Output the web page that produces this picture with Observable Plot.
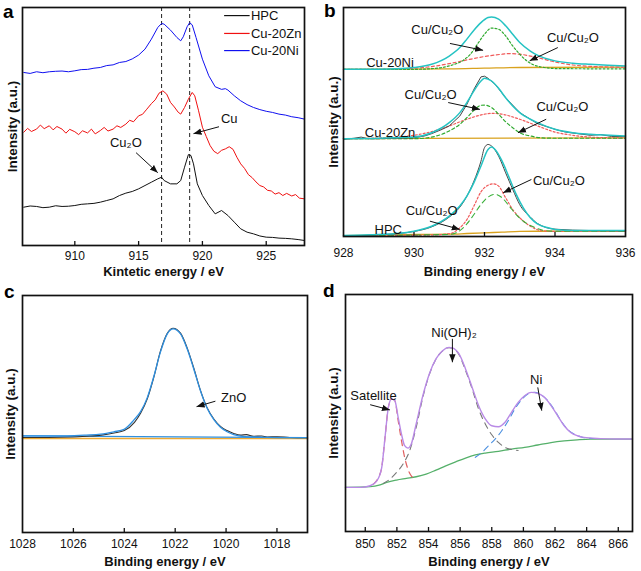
<!DOCTYPE html>
<html><head><meta charset="utf-8">
<script src="https://cdn.jsdelivr.net/npm/d3@7"></script>
<script src="https://cdn.jsdelivr.net/npm/@observablehq/plot@0.6"></script>
<style>
body{margin:0;background:#fff;font-family:"Liberation Sans",Arial,sans-serif;}
#fig{position:relative;width:641px;height:571px;overflow:hidden;}
.panel{position:absolute;}
.letter{position:absolute;font-weight:bold;font-size:19px;line-height:19px;}
</style></head><body><div id="fig"></div>
<script>
// ---------------- Panel a: Cu LMM (kinetic energy) ----------------
const aTicks = [910, 915, 920, 925];
const aNiE = [906,906.5,907,907.5,908,908.5,909,909.5,910,910.5,911,911.5,912,912.5,913,913.5,914,914.5,915,915.5,916,916.5,916.8,917,917.5,918,918.3,918.5,918.8,919,919.2,919.5,920,920.5,921,921.5,921.8,922,922.5,923,923.5,924,924.5,925,925.5,926,926.5,927,927.5,928];
const aNiI = [72.7,72.3,73.0,72.6,73.0,73.2,73.3,73.0,73.4,73.9,74.0,74.5,74.8,75.6,75.9,76.9,77.3,78.4,80.0,82.5,86.7,91.6,93.3,93.0,90.5,87.4,86.0,87.7,91.9,93.6,92.7,87.4,78.3,71.3,66.7,65.6,65.9,65.3,62.9,60.8,59.2,58.0,57.1,56.4,55.9,55.2,54.8,54.1,53.7,53.1];
const aZnE = [906,906.3,906.6,907,907.3,907.6,908,908.3,908.6,909,909.3,909.6,910,910.3,910.6,911,911.3,911.6,912,912.3,912.6,913,913.3,913.6,914,914.3,914.6,915,915.3,915.6,916,916.3,916.6,916.9,917.2,917.5,917.8,918.1,918.3,918.6,918.9,919.2,919.4,919.7,920,920.3,920.6,920.9,921.2,921.5,921.8,922.1,922.4,922.7,923,923.3,923.6,923.9,924.2,924.5,924.8,925.1,925.4,925.7,926,926.3,926.6,927,927.3,927.6,928];
const aZnI = [47.6,49.2,47.9,48.9,50.6,49.1,50.3,48.6,50.0,48.9,47.2,48.8,47.8,46.6,48.2,47.3,48.9,46.9,48.3,49.6,48.1,48.9,50.3,49.6,51.0,52.6,52.0,54.5,55.1,57.0,59.6,61.2,64.0,65.0,63.6,60.1,58.2,56.0,55.2,58.0,61.5,64.3,62.9,56.6,49.7,45.8,42.0,39.6,38.6,40.0,40.6,41.5,40.4,37.1,34.3,32.4,29.8,28.5,26.7,25.2,24.6,23.2,22.9,21.6,22.2,21.0,21.9,20.8,21.4,19.9,19.6];
const aHpcE = [906,906.5,907,907.5,908,908.5,909,909.5,910,910.5,911,911.5,912,912.5,913,913.5,914,914.5,915,915.5,916,916.5,916.8,917,917.5,918,918.3,918.6,918.9,919.1,919.3,919.6,920,920.5,921,921.5,922,922.5,923,923.5,924,924.5,925,925.5,926,926.5,927,927.5,928];
const aHpcI = [16.1,16.6,16.4,15.9,16.1,16.7,16.4,16.5,16.8,17.3,17.5,17.7,18.2,18.9,19.6,21.0,22.0,22.7,23.8,25.2,26.6,28.0,28.7,27.3,25.9,25.9,27.3,32.9,38.2,37.8,34.3,25.9,21.0,16.8,13.3,14.7,12.6,9.8,7.0,5.6,4.9,4.0,3.5,3.4,3.1,3.0,2.8,2.5,2.1];
const aSeries = ["HPC", "Cu-20Zn", "Cu-20Ni"];
const aColors = ["#111111", "#f01010", "#1010f0"];
const aRefLines = [916.8, 919.0];
const aLabels = [{t: "Cu₂O", x: 914.0, y: 43.3}, {t: "Cu", x: 922.1, y: 53.3}];
const aArrows = [{x1: 914.8, y1: 39.0, x2: 916.5, y2: 30.6}, {x1: 921.3, y1: 49.9, x2: 919.3, y2: 47.0}];
const aLegend = {x1: 921.7, x2: 923.7, xt: 923.8, y: [96.6, 89.1, 81.9]};

// ---------------- Panel b: Cu 2p3/2 ----------------
const bTicks = [928, 930, 932, 934, 936];
const bNiFitE = [928,929,929.5,930,930.5,931,931.3,931.5,931.7,931.9,932.1,932.2,932.4,932.6,932.8,933,933.3,933.5,934,934.5,935,935.5,936];
const bNiFitI = [73.0,73.0,73.2,73.8,75.2,78.8,82.5,86.2,90.1,93.4,95.6,95.9,94.9,92.0,88.3,84.7,81.0,79.2,76.7,75.7,75.2,74.8,74.5];
const bNiGreenE = [928,930,930.5,931,931.4,931.6,931.8,932.0,932.2,932.4,932.6,932.8,933.0,933.2,933.4,933.7,934.1,936];
const bNiGreenI = [73.0,73.0,73.3,74.5,77.0,79.6,84.0,88.3,91.0,90.5,87.6,83.2,79.6,76.7,74.9,73.8,73.3,73.2];
const bNiRedE = [928,929,930,930.5,931,931.5,932,932.5,932.7,933,933.5,934,934.5,935,936];
const bNiRedI = [73.0,73.0,73.5,74.2,75.5,77.1,78.6,79.6,79.9,79.6,78.1,76.2,74.9,74.3,73.9];
const bNiBaseE = [928, 931, 932, 933, 936];
const bNiBaseI = [73.0, 73.2, 73.5, 73.8, 74.0];

const bZnRawE = [928,928.3,928.5,928.7,929,929.5,930,930.3,930.5,930.8,931,931.3,931.5,931.7,931.9,932.0,932.1,932.3,932.6,933,933.5,934,934.3,934.6,935,935.3,935.6,936];
const bZnRawI = [42.4,42.9,43.4,42.7,42.7,42.9,43.1,43.9,44.9,46.8,48.3,52.6,57.7,64.3,69.7,70.0,69.1,66.5,60.6,54.1,49.3,46.8,45.6,45.0,44.2,44.5,43.7,43.6];
const bZnFitE = [928,929,930,930.5,931,931.3,931.5,931.7,931.9,932.0,932.2,932.4,932.6,932.8,933,933.3,933.5,934,934.5,935,936];
const bZnFitI = [42.7,42.9,43.4,45.3,49.7,54.1,58.5,63.6,67.9,69.1,67.9,64.7,60.6,57.0,54.1,51.2,49.7,46.8,45.3,44.6,43.9];
const bZnGreenE = [928,930,930.5,931,931.3,931.5,931.7,931.9,932.0,932.2,932.4,932.6,932.8,933,933.3,933.6,934,936];
const bZnGreenI = [42.7,42.7,43.4,46.1,49.0,51.9,55.1,57.3,57.4,56.3,53.4,50.1,47.5,45.3,43.9,43.1,42.9,42.9];
const bZnRedE = [928,929,930,930.5,931,931.5,932,932.2,932.5,933,933.5,934,934.5,935,936];
const bZnRedI = [42.7,43.0,44.2,45.8,48.3,51.2,53.4,53.8,53.4,51.2,48.3,45.6,44.2,43.4,43.0];
const bZnBaseE = [928, 936];
const bZnBaseI = [42.7, 43.1];

const bHpcRawE = [928,929,930,930.5,931,931.3,931.5,931.7,931.9,932.0,932.1,932.2,932.4,932.6,932.8,933,933.3,933.5,934,935,936];
const bHpcRawI = [0.3,0.7,2.2,4.2,8.5,12.8,17.6,24.2,32.9,38.8,40.2,39.5,35.1,27.8,20.6,13.9,8.5,5.7,3.2,2.6,2.5];
const bHpcFitE = [928,929,929.5,930,930.5,931,931.3,931.5,931.7,931.9,932.1,932.2,932.3,932.5,932.7,932.9,933.1,933.3,933.5,933.8,934,934.5,935,936];
const bHpcFitI = [0.4,0.9,1.3,2.3,4.5,8.9,13.3,17.6,23.5,30.8,38.0,39.1,38.0,32.9,25.7,18.4,12.5,8.2,5.5,3.8,3.1,2.6,2.6,2.6];
const bHpcRedE = [928,930.5,931,931.3,931.5,931.7,931.9,932.1,932.25,932.4,932.6,932.8,933,933.3,933.6,934,935,936];
const bHpcRedI = [0.4,0.7,1.2,3.8,7.4,13.3,19.5,22.4,23.0,22.0,16.9,11.8,8.2,4.5,2.6,2.2,2.3,2.3];
const bHpcGreenE = [928,931,931.2,931.5,931.7,931.9,932.1,932.3,932.5,932.7,932.9,933.1,933.4,933.7,934,936];
const bHpcGreenI = [0.4,0.9,1.6,5.5,9.6,14.0,17.2,18.4,16.9,13.3,9.6,6.7,4.1,2.6,2.3,2.3];
const bHpcBaseE = [928,929,930,931,931.5,932,932.5,933,933.5,934,936];
const bHpcBaseI = [0.4,0.6,0.9,1.0,1.3,1.6,1.9,2.2,2.3,2.3,2.3];

const bLabels = [
  {t: "Cu-20Ni", x: 929.32, y: 75.9}, {t: "Cu-20Zn", x: 929.32, y: 45.3}, {t: "HPC", x: 929.27, y: 3.1},
  {t: "Cu/Cu₂O", x: 930.66, y: 90.1}, {t: "Cu/Cu₂O", x: 934.51, y: 86.6},
  {t: "Cu/Cu₂O", x: 930.47, y: 61.7}, {t: "Cu/Cu₂O", x: 934.21, y: 56.6},
  {t: "Cu/Cu₂O", x: 930.5, y: 11.4}, {t: "Cu/Cu₂O", x: 934.11, y: 24.2}
];
const bArrows = [
  {x1: 931.02, y1: 84.3, x2: 931.96, y2: 81.3}, {x1: 934.08, y1: 82.5, x2: 933.28, y2: 76.7},
  {x1: 930.97, y1: 58.5, x2: 931.87, y2: 55.5}, {x1: 933.75, y1: 51.2, x2: 932.95, y2: 45.3},
  {x1: 930.45, y1: 6.7, x2: 931.30, y2: 3.1}, {x1: 933.33, y1: 24.9, x2: 932.53, y2: 19.1}
];

// ---------------- Panel c: Zn 2p3/2 ----------------
const cTicks = [1028, 1026, 1024, 1022, 1020, 1018];
const cFitE = [1028,1027,1026.24,1025.5,1024.93,1024.41,1024.01,1023.62,1023.36,1023.10,1022.84,1022.58,1022.31,1022.08,1021.79,1021.53,1021.27,1021.01,1020.75,1020.48,1020.22,1019.96,1019.70,1019.44,1018.92,1018.39,1017.5,1016.8];
const cFitI = [40.8,40.8,40.8,41.1,41.5,42.5,43.5,47.5,51.0,56.8,65.8,76.1,83.8,85.9,83.8,77.5,69.0,59.9,52.5,47.6,44.4,42.5,41.3,40.7,40.3,40.1,40.0,40.0];
const cRawE = [1028,1027,1026,1025.5,1024.9,1024.4,1024,1023.6,1023.36,1023.1,1022.84,1022.58,1022.31,1022.08,1021.79,1021.53,1021.27,1021.01,1020.75,1020.48,1020.22,1019.96,1019.7,1019.44,1019.2,1018.92,1018.6,1018.39,1018,1017.5,1016.8];
const cRawI = [40.1,40.1,40.3,40.6,41.1,42.0,43.0,46.5,50.3,56.3,65.5,76.5,84.1,86.2,84.1,77.9,69.4,60.1,52.8,47.9,44.8,43.0,41.8,41.1,41.3,40.6,40.7,40.3,40.4,40.1,40.0];
const cBgE = [1028, 1016.8];
const cBgI = [40.8, 40.0];
const cBaseE = [1028, 1016.8];
const cBaseI = [39.7, 39.7];
const cLabels = [{t: "ZnO", x: 1019.7, y: 56.8}];
const cArrows = [{x1: 1020.42, y1: 55.4, x2: 1021.16, y2: 53.1}];

// ---------------- Panel d: Ni 2p3/2 ----------------
const dTicks = [850, 852, 854, 856, 858, 860, 862, 864, 866];
const dFitE = [848.75,849.69,850.31,850.73,851.04,851.25,851.46,851.66,851.87,852.08,852.29,852.49,852.70,852.91,853.22,853.64,854.05,854.47,854.89,855.30,855.51,855.93,856.34,856.76,857.17,857.59,858.00,858.42,858.84,859.25,859.67,860.08,860.50,860.91,861.33,861.75,862.16,862.58,862.99,863.41,863.83,864.86,865.90,866.9];
const dFitI = [18.6,18.6,19.3,21.4,27.0,39.7,52.4,55.9,55.2,48.2,41.1,36.2,35.2,36.9,45.4,57.3,66.5,72.8,76.3,77.7,77.5,74.9,68.6,60.8,53.1,47.5,44.6,44.2,46.1,50.3,54.5,57.3,58.7,58.3,56.6,53.1,48.9,44.6,41.8,40.4,39.7,39.2,39.0,39.0];
const dBgE = [848.75,850.31,850.94,851.35,851.98,852.60,853.22,853.85,854.47,855.09,855.72,856.34,856.96,857.59,858.42,859.25,860.08,860.91,861.75,862.58,863.41,864.24,866.9];
const dBgI = [18.6,18.9,19.7,20.7,21.7,22.4,23.1,24.2,25.9,27.7,29.4,31.0,32.3,33.1,33.8,34.8,35.5,36.5,37.5,38.2,38.7,39.0,39.0];
const dSatE = [850.52,850.83,851.04,851.25,851.46,851.66,851.87,852.08,852.29,852.49,852.70,852.91,853.12];
const dSatI = [20.0,22.8,27.0,39.7,52.4,55.9,55.2,46.8,38.3,31.3,26.3,23.5,22.4];
const dOhE = [851.14,851.56,851.98,852.39,852.81,853.22,853.64,854.05,854.47,854.89,855.30,855.51,855.93,856.34,856.76,857.17,857.59,858.00,858.42,858.84,859.25,859.67];
const dOhI = [20.3,22.1,24.9,28.5,34.1,43.9,56.6,66.2,72.7,76.2,77.6,77.3,74.6,68.0,60.1,51.6,45.4,40.8,37.6,35.5,34.6,34.2];
const dNiE = [856.96,857.38,857.80,858.21,858.63,859.05,859.46,859.88,860.29,860.71,861.12,861.54,861.96,862.37,862.79,863.20,863.62,864.03,864.86];
const dNiI = [31.3,33.4,36.2,39.0,42.5,46.8,51.7,55.6,58.0,58.7,57.7,55.2,51.3,46.8,43.1,41.1,40.0,39.4,39.2];
const dLabels = [{t: "Satellite", x: 850.52, y: 57.3}, {t: "Ni(OH)₂", x: 855.61, y: 83.7}, {t: "Ni", x: 860.81, y: 63.9}];
const dArrows = [
  {x1: 850.31, y1: 53.5, x2: 851.56, y2: 51.3},
  {x1: 855.51, y1: 81.3, x2: 855.51, y2: 71.4},
  {x1: 860.91, y1: 60.8, x2: 861.16, y2: 51.0}
];

// ---------------- helpers ----------------
const FONT = "'Liberation Sans', Arial, Helvetica, sans-serif";
const zip = (xs, ys) => xs.map((x, i) => ({x, y: ys[i]}));
function arrowHead(color) {
  return d3.create("svg:marker")
    .attr("viewBox", "-8 -4 8 8")
    .attr("markerWidth", 8).attr("markerHeight", 8)
    .attr("markerUnits", "userSpaceOnUse")
    .attr("orient", "auto")
    .attr("fill", color).attr("stroke", "none")
    .call(m => m.append("path").attr("d", "M0,0L-8,-3.2L-8,3.2Z"))
    .node();
}
const curve = (xs, ys, o) => Plot.line(zip(xs, ys), {x: "x", y: "y", curve: "monotone-x", ...o});
const labels = (arr, o = {}) => Plot.text(arr, {x: "x", y: "y", text: "t", fontSize: 13, fill: "#111", ...o});
const arrows = (arr) => Plot.link(arr, {x1: "x1", y1: "y1", x2: "x2", y2: "y2", stroke: "#111", strokeWidth: 1, markerEnd: arrowHead});

const fig = document.getElementById("fig");
function panel({left, top, width, height, margins, xDomain, ticks, tickMarks, tickPadding, xLabel, xLabelDy, yLabelDx, letter, letterPos, marks}) {
  const [mt, mr, mb, ml] = margins;
  const innerH = height - mt - mb;
  const chart = Plot.plot({
    width, height, marginTop: mt, marginRight: mr, marginBottom: mb, marginLeft: ml,
    style: {fontFamily: FONT, fontSize: "12px", background: "transparent", overflow: "visible", color: "#111"},
    x: {domain: xDomain, ticks, tickSize: 0, tickPadding, label: null, tickFormat: d3.format("d")},
    y: {domain: [0, 100], axis: null},
    marks: [
      ...marks,
      Plot.tickX(tickMarks, {x: d => d, insetTop: innerH - 4, stroke: "#111", strokeWidth: 1.3}),
      Plot.frame({stroke: "#111", strokeWidth: 1.7}),
      Plot.text([xLabel], {text: d => d, frameAnchor: "bottom", lineAnchor: "middle", dy: xLabelDy, fontWeight: "bold", fontSize: 13, fill: "#111"}),
      Plot.text(["Intensity (a.u.)"], {text: d => d, frameAnchor: "left", textAnchor: "middle", lineAnchor: "middle", rotate: -90, dx: yLabelDx, fontWeight: "bold", fontSize: 13.5, fill: "#111"})
    ]
  });
  const div = document.createElement("div");
  div.className = "panel";
  div.style.left = left + "px"; div.style.top = top + "px";
  div.appendChild(chart);
  fig.appendChild(div);
  const l = document.createElement("div");
  l.className = "letter";
  l.textContent = letter;
  l.style.left = letterPos[0] + "px"; l.style.top = letterPos[1] + "px";
  fig.appendChild(l);
}

// Panel a
panel({
  left: 0, top: 0, width: 320, height: 280, margins: [7, 16, 35, 22],
  xDomain: [905.9, 928], ticks: aTicks, tickMarks: aTicks, tickPadding: 6,
  xLabel: "Kintetic energy / eV", xLabelDy: 26, yLabelDx: -10, letter: "a", letterPos: [3, 2],
  marks: [
    Plot.ruleX(aRefLines, {x: d => d, stroke: "#222", strokeDasharray: "4,3", strokeWidth: 1}),
    Plot.line(zip(aHpcE, aHpcI), {x: "x", y: "y", stroke: aColors[0], strokeWidth: 1}),
    Plot.line(zip(aZnE, aZnI), {x: "x", y: "y", stroke: aColors[1], strokeWidth: 1}),
    Plot.line(zip(aNiE, aNiI), {x: "x", y: "y", stroke: aColors[2], strokeWidth: 1}),
    Plot.link(aSeries, {x1: aLegend.x1, x2: aLegend.x2, y1: (d, i) => aLegend.y[i], y2: (d, i) => aLegend.y[i], stroke: (d, i) => aColors[i], strokeWidth: 1.2}),
    Plot.text(aSeries, {x: aLegend.xt, y: (d, i) => aLegend.y[i], text: d => d, textAnchor: "start", fontSize: 13, fill: "#111"}),
    labels(aLabels),
    arrows(aArrows)
  ]
});

// Panel b
const cyan = "#25c3c3", gold = "#d9a21e", gDot = "#2faa2f", rDot = "#f05a5a", raw = "#444";
panel({
  left: 320, top: 0, width: 321, height: 280, margins: [7, 16, 44, 23],
  xDomain: [928, 936], ticks: bTicks, tickMarks: [930, 932, 934], tickPadding: 12,
  xLabel: "Binding energy / eV", xLabelDy: 35, yLabelDx: -10, letter: "b", letterPos: [324, 1],
  marks: [
    curve(bNiBaseE, bNiBaseI, {stroke: gold, strokeWidth: 1.3}),
    curve(bZnBaseE, bZnBaseI, {stroke: gold, strokeWidth: 1.3}),
    curve(bHpcBaseE, bHpcBaseI, {stroke: gold, strokeWidth: 1.3}),
    curve(bNiRedE, bNiRedI, {stroke: rDot, strokeWidth: 1.2, strokeDasharray: "3,2.5"}),
    curve(bNiGreenE, bNiGreenI, {stroke: gDot, strokeWidth: 1.2, strokeDasharray: "2,2"}),
    curve(bNiFitE, bNiFitI, {stroke: cyan, strokeWidth: 1.5}),
    curve(bZnRedE, bZnRedI, {stroke: rDot, strokeWidth: 1.2, strokeDasharray: "2,2"}),
    curve(bZnGreenE, bZnGreenI, {stroke: gDot, strokeWidth: 1.2, strokeDasharray: "3,2.5"}),
    Plot.line(zip(bZnRawE, bZnRawI), {x: "x", y: "y", stroke: raw, strokeWidth: 1}),
    curve(bZnFitE, bZnFitI, {stroke: cyan, strokeWidth: 1.5}),
    curve(bHpcRedE, bHpcRedI, {stroke: rDot, strokeWidth: 1.2, strokeDasharray: "2,2"}),
    curve(bHpcGreenE, bHpcGreenI, {stroke: "#3ab03a", strokeWidth: 1.1, strokeDasharray: "5,4"}),
    curve(bHpcRawE, bHpcRawI, {stroke: raw, strokeWidth: 1}),
    curve(bHpcFitE, bHpcFitI, {stroke: cyan, strokeWidth: 1.5}),
    labels(bLabels),
    arrows(bArrows)
  ]
});

// Panel c
panel({
  left: 0, top: 280, width: 320, height: 291, margins: [15, 13, 39, 22],
  xDomain: [1028, 1016.8], ticks: cTicks, tickMarks: cTicks.slice(1), tickPadding: 7,
  xLabel: "Binding energy / eV", xLabelDy: 29, yLabelDx: -12, letter: "c", letterPos: [4, 282],
  marks: [
    curve(cBaseE, cBaseI, {stroke: "#eeaa33", strokeWidth: 1.5}),
    curve(cBgE, cBgI, {stroke: "#2f90e0", strokeWidth: 1.3}),
    curve(cRawE, cRawI, {stroke: "#333", strokeWidth: 1.1}),
    curve(cFitE, cFitI, {stroke: "#2f90e0", strokeWidth: 1.3}),
    labels(cLabels),
    arrows(cArrows)
  ]
});

// Panel d
panel({
  left: 320, top: 280, width: 321, height: 291, margins: [14, 9, 40, 25],
  xDomain: [848.75, 866.9], ticks: dTicks, tickMarks: dTicks, tickPadding: 8,
  xLabel: "Binding energy / eV", xLabelDy: 30, yLabelDx: -12, letter: "d", letterPos: [323, 281],
  marks: [
    curve(dBgE, dBgI, {stroke: "#55b06a", strokeWidth: 1.3}),
    curve(dSatE, dSatI, {stroke: "#e06060", strokeWidth: 1.2, strokeDasharray: "6,5"}),
    curve(dOhE, dOhI, {stroke: "#777", strokeWidth: 1.1, strokeDasharray: "6,5"}),
    curve(dNiE, dNiI, {stroke: "#4a8fe0", strokeWidth: 1.1, strokeDasharray: "6,5"}),
    curve(dFitE, dFitI, {stroke: "#b98ae6", strokeWidth: 1.4}),
    labels(dLabels),
    arrows(dArrows)
  ]
});
</script></body></html>
